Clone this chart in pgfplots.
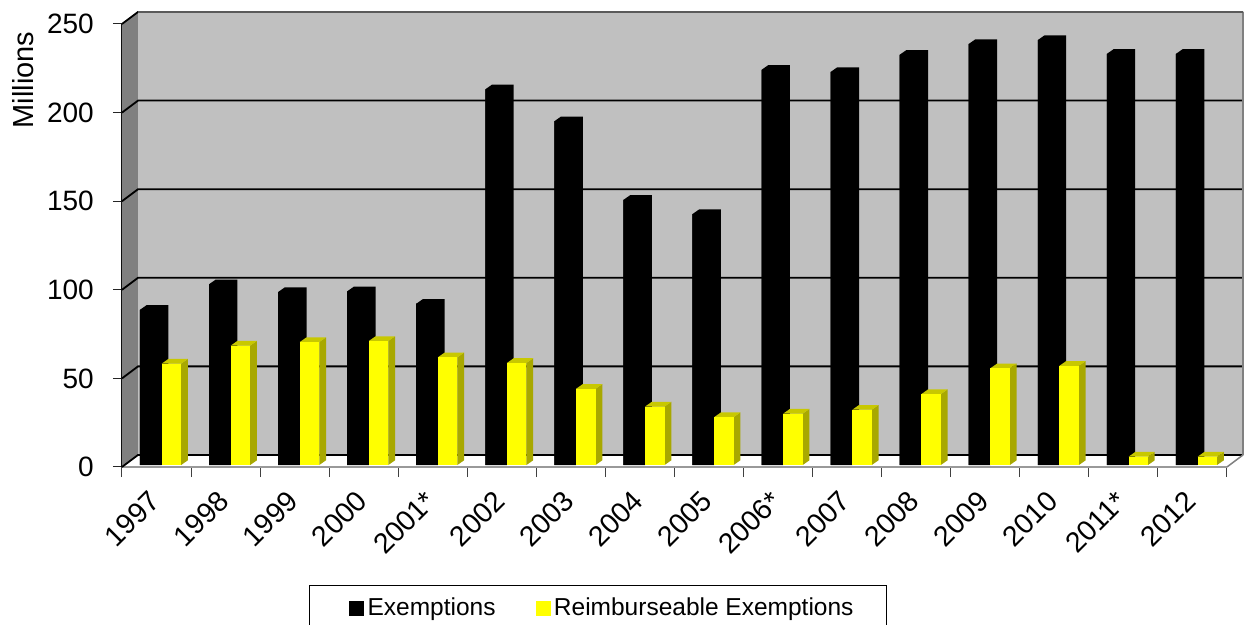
\documentclass[border=0pt]{standalone}
\usepackage{pgfplots}
\usepackage{pgfplotstable}
\usepackage{fontspec}
\setmainfont{Liberation Sans}
\pgfplotsset{compat=1.18}
\definecolor{wallback}{HTML}{C0C0C0}
\definecolor{wallleft}{HTML}{808080}
\definecolor{ysidec}{HTML}{A8A800}
\definecolor{ytopc}{HTML}{C8C800}
\definecolor{pureyellow}{HTML}{FFFF00}
\pgfplotstableread{
x v
0.5 87.6
1.5 102
2.5 97.6
3.5 98
4.5 91
5.5 212
6.5 194
7.5 149.6
8.5 141.6
9.5 223
10.5 221.8
11.5 231.5
12.5 237.6
13.5 239.8
14.5 232
15.5 232
}\exempt
\pgfplotstableread{
x v
0.5 57.2
1.5 67.4
2.5 69.4
3.5 70
4.5 60.8
5.5 57.6
6.5 43
7.5 33
8.5 27
9.5 29
10.5 31.2
11.5 40
12.5 54.6
13.5 56
14.5 4.7
15.5 4.7
}\reimb
% whole visible bar; origin = middle of the front face's upper edge
\pgfdeclareplotmark{blackdepth}{%
  \pgfmathsetlengthmacro\hh{\val*1.772pt}%
  \pgfsetfillcolor{black}%
  \pgfpathmoveto{\pgfpoint{-10.85pt}{0pt}}%
  \pgfpathlineto{\pgfpoint{-4.15pt}{4.7pt}}%
  \pgfpathlineto{\pgfpoint{17.55pt}{4.7pt}}%
  \pgfpathlineto{\pgfpoint{17.55pt}{4.7pt-\hh}}%
  \pgfpathlineto{\pgfpoint{10.85pt}{-\hh}}%
  \pgfpathlineto{\pgfpoint{-10.85pt}{-\hh}}%
  \pgfpathclose\pgfusepathqfill}
\pgfdeclareplotmark{yellowdepth}{%
  \pgfmathsetlengthmacro\hh{\val*1.772pt}%
  \pgfsetfillcolor{ysidec}%
  \pgfpathmoveto{\pgfpoint{9.75pt}{0pt}}%
  \pgfpathlineto{\pgfpoint{16.45pt}{4.7pt}}%
  \pgfpathlineto{\pgfpoint{16.45pt}{4.7pt-\hh}}%
  \pgfpathlineto{\pgfpoint{9.75pt}{-\hh}}%
  \pgfpathclose\pgfusepathqfill
  \pgfsetfillcolor{ytopc}%
  \pgfpathmoveto{\pgfpoint{-9.75pt}{0pt}}%
  \pgfpathlineto{\pgfpoint{-3.05pt}{4.7pt}}%
  \pgfpathlineto{\pgfpoint{16.45pt}{4.7pt}}%
  \pgfpathlineto{\pgfpoint{9.75pt}{0pt}}%
  \pgfpathclose\pgfusepathqfill
  \pgfsetfillcolor{pureyellow}%
  \pgfpathrectangle{\pgfpoint{-9.75pt}{-\hh}}{\pgfpoint{19.5pt}{\hh}}%
  \pgfusepathqfill}
\begin{document}
\begin{tikzpicture}[x=1pt,y=1pt]
\path[use as bounding box] (0,0) rectangle (1248,624);
\draw[black,line width=1pt] (309,-6) -- (309,38.5) -- (886,38.5) -- (886,-6);
\begin{axis}[
  at={(122pt,157pt)},anchor=origin,
  scale only axis,width=1105pt,height=443pt,
  xmin=0,xmax=16,ymin=0,ymax=250,
  clip=false,
  axis x line=bottom,axis y line=left,
  x axis line style={-,color=wallleft!80!white,line width=2.2pt},
  y axis line style={-,black,line width=1.2pt},
  tick align=outside,
  xtick={0.5,1.5,...,15.5},
  xticklabels={1997,1998,1999,2000,2001*,2002,2003,2004,2005,2006*,2007,2008,2009,2010,2011*,2012},
  minor xtick={0,1,...,16},
  major x tick style={draw=none},
  minor tick length=10pt,
  minor x tick style={black!75,line width=1pt},
  ytick={0,50,...,250},
  major tick length=9pt,
  y tick style={black!85,line width=1pt},
  yticklabel style={font=\fontsize{28}{32}\selectfont,/pgf/number format/assume math mode=true,xshift=-19pt,inner xsep=0pt},
  xticklabel style={font=\fontsize{28.5}{32}\selectfont,rotate=45,anchor=north east,xshift=-15.6pt,yshift=-2.7pt,inner sep=0pt},
  ylabel={Millions},
  ylabel style={at={(axis description cs:-0.0896,0.8736)},anchor=center,font=\fontsize{29}{32}\selectfont},
  legend columns=2,
  legend cell align=left,
  legend style={at={(axis description cs:0.2054,-0.318)},anchor=west,draw=none,fill=none,
    font=\fontsize{24.5}{28}\selectfont,inner sep=0pt,
    /tikz/every even column/.append style={column sep=38pt}},
]
% walls and floor decoration
\fill[wallleft] (axis cs:0,0) -- ++(16pt,12pt) -- ++(0pt,443pt) -- ++(-16pt,-12pt) -- cycle;
\fill[wallback] (axis cs:0,0) ++(16pt,12pt) rectangle ++(1105pt,443pt);
\pgfplotsinvokeforeach{0,50,...,250}{
  \draw[black,line width=1.8pt] (axis cs:0,#1) -- ++(16pt,12pt) -- ++(1105pt,0pt);
}
\draw[wallleft,line width=1.5pt] (axis cs:0,0) ++(16pt,12pt) ++(1105pt,0pt) -- ++(0pt,443pt);
\draw[wallleft,line width=1.5pt] (axis cs:16,0) -- ++(16pt,12pt);
\draw[wallleft!70!black,line width=1.8pt] (axis cs:0,250) ++(16pt,12pt) -- ++(1105pt,0pt);
\addplot[ybar,bar width=21.7pt,bar shift=-5.7pt,yshift=2pt,fill=black,draw=none,forget plot] table[x=x,y=v] {\exempt};
\addplot[scatter,only marks,mark=blackdepth,xshift=-5.7pt,yshift=2pt,forget plot,
  visualization depends on={rawy \as \val},
  scatter/use mapped color={draw=none,fill=none}] table[x=x,y=v] {\exempt};
\addplot[ybar,bar width=19.5pt,bar shift=14.9pt,yshift=2pt,fill=pureyellow,draw=none,forget plot] table[x=x,y=v] {\reimb};
\addplot[scatter,only marks,mark=yellowdepth,xshift=14.9pt,yshift=2pt,forget plot,
  visualization depends on={rawy \as \val},
  scatter/use mapped color={draw=none,fill=none}] table[x=x,y=v] {\reimb};
\addlegendimage{legend image code/.code={\fill[black] (0pt,-7pt) rectangle (14pt,7pt);}}
\addlegendentry{\hspace{2pt}Exemptions}
\addlegendimage{legend image code/.code={\fill[pureyellow] (0pt,-7pt) rectangle (14pt,7pt);}}
\addlegendentry{\hspace{2pt}Reimburseable Exemptions}
\end{axis}
\end{tikzpicture}
\end{document}
